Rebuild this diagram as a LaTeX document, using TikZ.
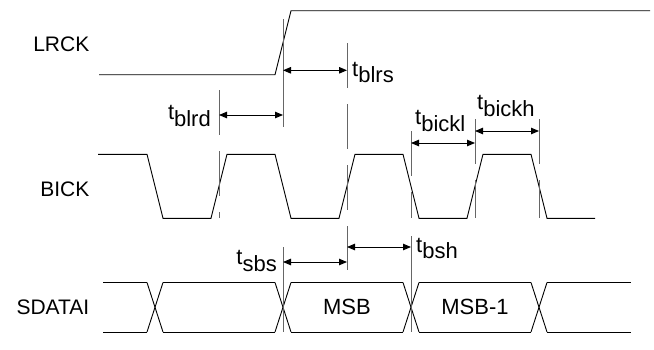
\documentclass[tikz,border=0pt]{standalone}
\usepackage{fontspec}
\setmainfont{Liberation Sans}
\usetikzlibrary{arrows.meta}
\newcommand{\tsub}[1]{t\raisebox{-6.7pt}{#1}}
\begin{document}
\begin{tikzpicture}[x=1pt,y=-1pt,
  wave/.style={line width=0.9pt, black},
  guide/.style={line width=0.8pt, black!60},
  dguide/.style={guide, dash pattern=on 45pt off 16pt},
  dim/.style={line width=0.9pt, {Triangle[length=8pt,width=6.5pt]}-{Triangle[length=8pt,width=6.5pt]}},
  sig/.style={font=\fontsize{21}{21}\selectfont, anchor=east, inner sep=0pt},
  tlab/.style={font=\fontsize{22}{22}\selectfont, inner sep=0pt},
  dlab/.style={font=\fontsize{22}{22}\selectfont, inner sep=0pt}
]
\useasboundingbox (0,0) rectangle (654,349);
% signal names
\node[sig] (lrck) at (89.5,44) {LRCK};
\node[sig] (bick) at (89.5,189) {BICK};
\node[sig] (sdatai) at (89.5,307) {SDATAI};
% LRCK
\draw[wave] (99,74.7) -- (275,74.7) -- (291,10.7) -- (650,10.7);
% BICK
\draw[wave] (98,154.3) -- (147,154.3) -- (163,218.3) -- (211,218.3) -- (227,154.3)
  -- (275,154.3) -- (291,218.3) -- (339,218.3) -- (355,154.3)
  -- (403,154.3) -- (419,218.3) -- (467,218.3) -- (483,154.3)
  -- (531,154.3) -- (547,218.3) -- (595,218.3);
% SDATAI
\foreach \a/\b in {103/147,163/275,291/403,419/531,547/631}{
  \draw[wave] (\a,282.5) -- (\b,282.5);
  \draw[wave] (\a,332) -- (\b,332);
}
\foreach \c in {155,283,411,539}{
  \draw[wave] (\c-8,282.5) -- (\c+8,332);
  \draw[wave] (\c-8,332) -- (\c+8,282.5);
}
\node[dlab] (msb) at (347,307) {MSB};
\node[dlab] (msb1) at (475,307) {MSB-1};
% guide lines
\draw[guide] (283,19) -- (283,127);
\draw[dguide] (347,43) -- (347,270);
\draw[dguide] (219,90) -- (219,218.3);
\draw[dguide] (411,131) -- (411,218.3);
\draw[guide] (411,236) -- (411,332);
\draw[guide] (283,247) -- (283,332);
\draw[dguide] (475,119) -- (475,218.3);
\draw[dguide] (539,119) -- (539,218.3);
% dimension arrows
\coordinate (blrsA) at (283,70.3);  \coordinate (blrsB) at (347,70.3);
\coordinate (blrdA) at (219,115);   \coordinate (blrdB) at (283,115);
\coordinate (bicklA) at (411,143);  \coordinate (bicklB) at (475,143);
\coordinate (bickhA) at (475,131);  \coordinate (bickhB) at (539,131);
\coordinate (sbsA) at (283,262);    \coordinate (sbsB) at (347,262);
\coordinate (bshA) at (347,247);    \coordinate (bshB) at (411,247);
\draw[dim] (blrsA) -- (blrsB);
\draw[dim] (blrdA) -- (blrdB);
\draw[dim] (bicklA) -- (bicklB);
\draw[dim] (bickhA) -- (bickhB);
\draw[dim] (sbsA) -- (sbsB);
\draw[dim] (bshA) -- (bshB);
% timing labels
\node[tlab, anchor=base west] (tblrs) at (352,76) {\tsub{blrs}};
\node[tlab, anchor=base east] (tblrd) at (211,119.5) {\tsub{blrd}};
\node[tlab, anchor=base west] (tbickl) at (415,124.5) {\tsub{bickl}};
\node[tlab, anchor=base west] (tbickh) at (477,109.5) {\tsub{bickh}};
\node[tlab, anchor=base east] (tsbs) at (277,264.5) {\tsub{sbs}};
\node[tlab, anchor=base west] (tbsh) at (416,252) {\tsub{bsh}};
\end{tikzpicture}
\end{document}
